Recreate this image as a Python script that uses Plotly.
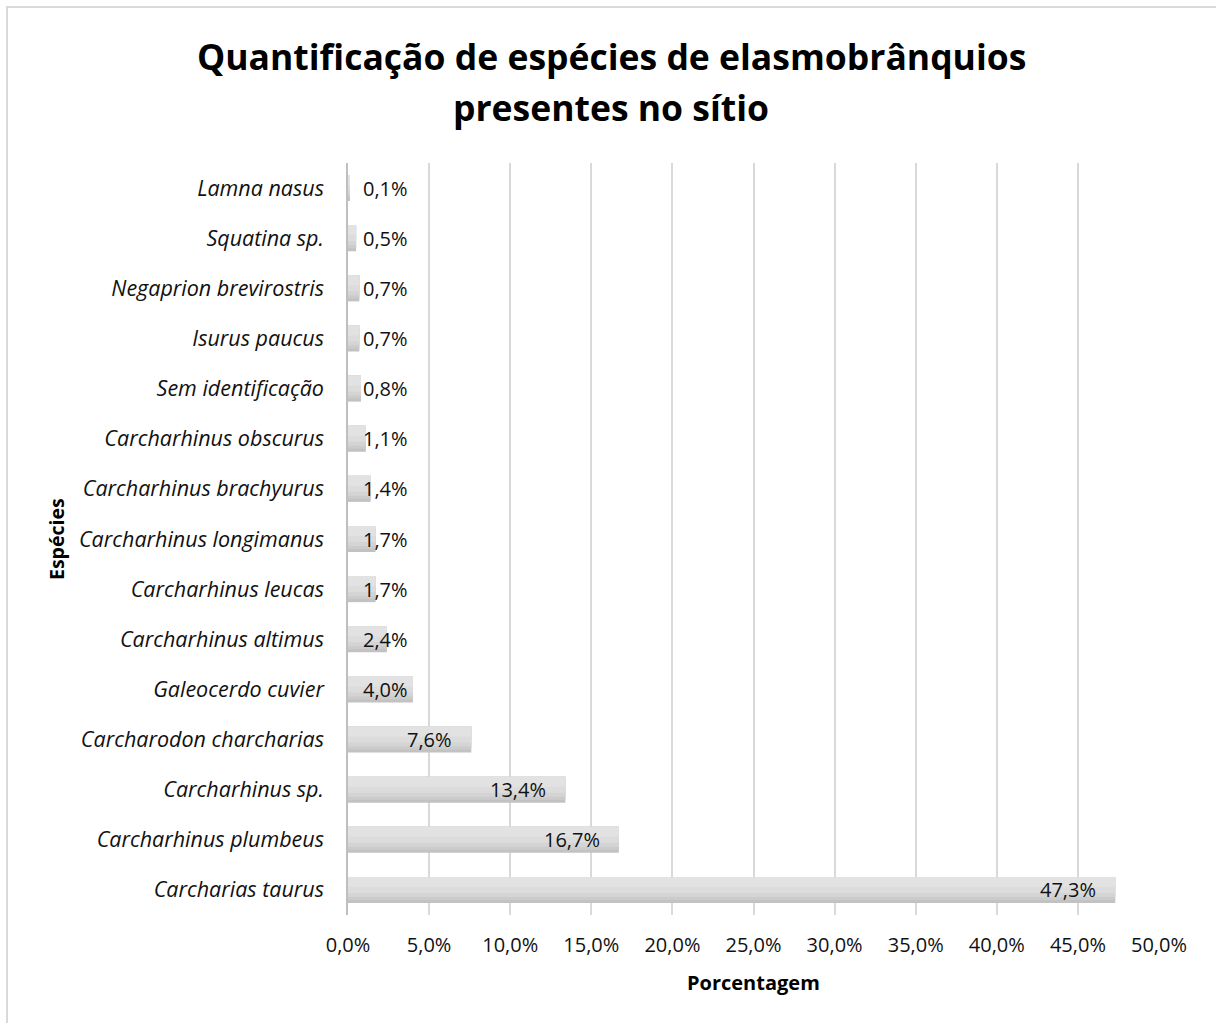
import plotly.graph_objects as go

species = [
    "Carcharias taurus", "Carcharhinus plumbeus", "Carcharhinus sp.",
    "Carcharodon charcharias", "Galeocerdo cuvier", "Carcharhinus altimus",
    "Carcharhinus leucas", "Carcharhinus longimanus", "Carcharhinus brachyurus",
    "Carcharhinus obscurus", "Sem identificação", "Isurus paucus",
    "Negaprion brevirostris", "Squatina sp.", "Lamna nasus",
]
percent = [47.3, 16.7, 13.4, 7.6, 4.0, 2.4, 1.7, 1.7, 1.4, 1.1, 0.8, 0.7, 0.7, 0.5, 0.1]
x_ticks = [0, 5, 10, 15, 20, 25, 30, 35, 40, 45, 50]
x_tick_labels = [f"{t:.1f}%".replace(".", ",") for t in x_ticks]
title_lines = ["Quantificação de espécies de elasmobrânquios", "presentes no sítio"]

W, H = 1216, 1023
L, R, T, B = 348, 57, 163, 108
PW, PH = W - L - R, H - T - B

def px_x(p):
    return (p - L) / PW

def px_y(p):
    return (H - B - p) / PH

FONT = "Open Sans"
fig = go.Figure()

# gradient-like bars: layered bars from dark (bottom) to light (top)
layers = [
    (0.52, -0.26, "#c2c2c2"),
    (0.46, -0.20, "#cbcbcb"),
    (0.40, -0.14, "#d4d4d4"),
    (0.32, -0.06, "#dcdcdc"),
    (0.20, 0.06, "#e2e2e2"),
]
for w, off, col in layers:
    fig.add_trace(go.Bar(
        y=species, x=percent, orientation="h", width=w, offset=off,
        marker=dict(color=col, line=dict(width=0)), hoverinfo="skip",
        showlegend=False,
    ))

annotations = []
for s, v in zip(species, percent):
    annotations.append(dict(
        x=max(v - 1.05, 3.85), y=s, xref="x", yref="y",
        text=f"{v:.1f}%".replace(".", ","), showarrow=False,
        xanchor="right", yanchor="middle",
        font=dict(family=FONT, size=20, color="#111"),
    ))

annotations.append(dict(
    x=px_x(56), y=px_y(539), xref="paper", yref="paper", text="<b>Espécies</b>",
    textangle=-90, showarrow=False, xanchor="center", yanchor="middle",
    font=dict(family=FONT, size=19.5, color="#000"),
))
annotations.append(dict(
    x=0.5, y=px_y(982), xref="paper", yref="paper", text="<b>Porcentagem</b>",
    showarrow=False, xanchor="center", yanchor="middle",
    font=dict(family=FONT, size=20, color="#000"),
))
for line, ypx in zip(title_lines, [56, 107]):
    annotations.append(dict(
        x=px_x(611), y=px_y(ypx), xref="paper", yref="paper",
        text=f"<b>{line}</b>",
        showarrow=False, xanchor="center", yanchor="middle",
        font=dict(family=FONT, size=35.5, color="#000"),
    ))

fig.update_layout(
    width=W, height=H,
    margin=dict(l=L, r=R, t=T, b=B, autoexpand=False),
    paper_bgcolor="white", plot_bgcolor="white",
    barmode="overlay",
    annotations=annotations,
    shapes=[dict(
        type="rect", xref="paper", yref="paper",
        x0=px_x(7), x1=px_x(W + 20), y0=px_y(7), y1=px_y(H + 20),
        line=dict(color="#d9d9d9", width=2), fillcolor="rgba(0,0,0,0)",
        layer="below",
    )],
    xaxis=dict(
        range=[0, 50], tickmode="array", tickvals=x_ticks, ticktext=x_tick_labels,
        showgrid=True, gridcolor="#d9d9d9", gridwidth=1.5,
        zeroline=False, showline=False,
        ticks="outside", ticklen=12, tickcolor="rgba(0,0,0,0)",
        tickfont=dict(family=FONT, size=20, color="#111"),
    ),
    yaxis=dict(
        categoryorder="array", categoryarray=species,
        showgrid=False, zeroline=False,
        showline=True, linecolor="#bfbfbf", linewidth=1.5,
        ticks="outside", ticklen=18, tickcolor="rgba(0,0,0,0)",
        tickfont=dict(family=FONT, size=21.5, color="#111", style="italic"),
    ),
)

fig.write_html(
    "out.html",
    config={"displayModeBar": False},
    post_script="document.body.style.margin='0';document.body.style.padding='0';",
)
